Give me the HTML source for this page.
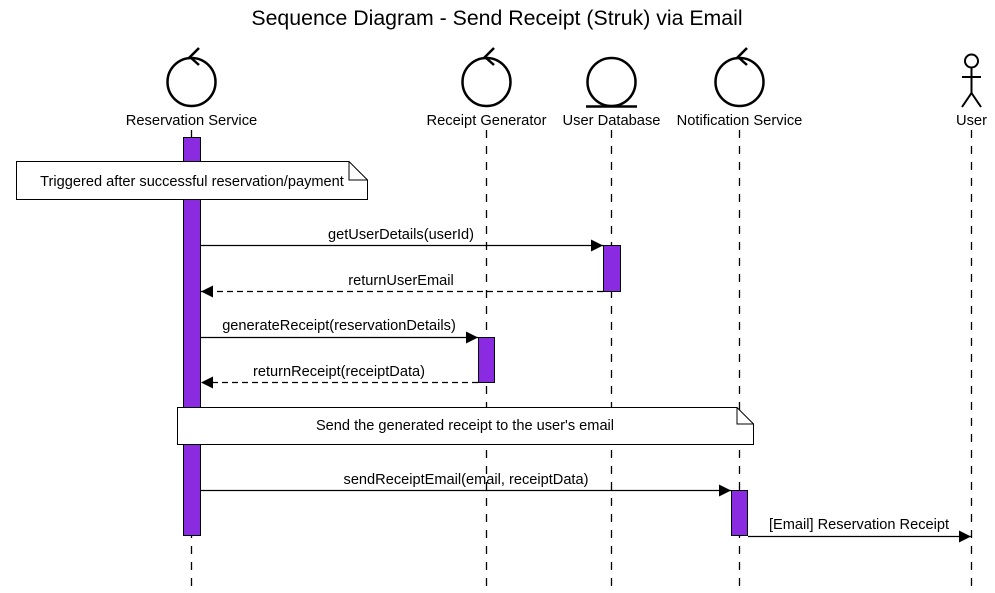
<!DOCTYPE html>
<html><head><meta charset="utf-8"><style>body{margin:0;background:#fff}svg{display:block}text{font-family:"Liberation Sans",Arial,sans-serif;fill:#000}</style></head>
<body>
<svg width="995" height="593" viewBox="0 0 995 593" xmlns="http://www.w3.org/2000/svg">
<text x="497" y="25" font-size="21.3" text-anchor="middle">Sequence Diagram - Send Receipt (Struk) via Email</text>
<defs><marker id="a" markerWidth="12" markerHeight="12" refX="12" refY="6" orient="auto" markerUnits="userSpaceOnUse"><path d="M0,0 L12,6 L0,12 z" fill="#000"/></marker></defs>
<g stroke="#000" stroke-width="1.3" stroke-dasharray="8,8" fill="none">
<line x1="191.5" y1="130" x2="191.5" y2="600"/>
<line x1="486.5" y1="130" x2="486.5" y2="600"/>
<line x1="611.5" y1="130" x2="611.5" y2="600"/>
<line x1="739.5" y1="130" x2="739.5" y2="600"/>
<line x1="971.5" y1="130" x2="971.5" y2="600"/>
</g>
<g stroke="#000" stroke-width="2.5" fill="none">
<circle cx="191.5" cy="82" r="24"/><path d="M199,48 L190,57 L199,65"/>
<circle cx="486.5" cy="82" r="24"/><path d="M494,48 L485,57 L494,65"/>
<circle cx="611.5" cy="82" r="24"/><line x1="586" y1="106.5" x2="637" y2="106.5"/>
<circle cx="739.5" cy="82" r="24"/><path d="M747,48 L738,57 L747,65"/>
<circle cx="971.5" cy="61" r="6.5" stroke-width="2"/>
<path d="M971.5,67.5 V93 M962,77 H981 M962,107 L971.5,93 L981,107" stroke-width="2"/>
</g>
<g font-size="14.7" text-anchor="middle">
<text x="191.5" y="125">Reservation Service</text>
<text x="486.5" y="125">Receipt Generator</text>
<text x="611.5" y="125">User Database</text>
<text x="739.5" y="125">Notification Service</text>
<text x="971.5" y="125">User</text>
</g>
<g fill="#8a2be2" stroke="#000" stroke-width="1">
<rect x="183.5" y="137.5" width="17" height="398"/>
<rect x="603.5" y="245.5" width="17" height="46"/>
<rect x="478.5" y="337.5" width="16" height="45"/>
<rect x="731.5" y="490.5" width="16" height="45"/>
</g>
<g fill="#fff" stroke="#000" stroke-width="1">
<path d="M16.5,161.5 H349 L367.5,180 V199.5 H16.5 Z"/><path d="M349,161.5 V180 H367.5" fill="none"/>
<path d="M177.5,407.5 H737 L753.5,424 V444.5 H177.5 Z"/><path d="M737,407.5 V424 H753.5" fill="none"/>
</g>
<text x="192" y="186" font-size="14.6" text-anchor="middle">Triggered after successful reservation/payment</text>
<text x="465" y="430" font-size="14.6" text-anchor="middle">Send the generated receipt to the user's email</text>
<g stroke="#000" stroke-width="1.3" fill="none">
<line x1="201" y1="245.5" x2="603" y2="245.5" marker-end="url(#a)"/>
<line x1="603" y1="291.5" x2="201" y2="291.5" stroke-dasharray="6,4" marker-end="url(#a)"/>
<line x1="201" y1="337.5" x2="478" y2="337.5" marker-end="url(#a)"/>
<line x1="478" y1="382.5" x2="201" y2="382.5" stroke-dasharray="6,4" marker-end="url(#a)"/>
<line x1="201" y1="490.5" x2="731" y2="490.5" marker-end="url(#a)"/>
<line x1="748" y1="536.5" x2="971" y2="536.5" marker-end="url(#a)"/>
</g>
<g font-size="14.6" text-anchor="middle">
<text x="401" y="239">getUserDetails(userId)</text>
<text x="401" y="285">returnUserEmail</text>
<text x="339" y="330">generateReceipt(reservationDetails)</text>
<text x="339" y="376">returnReceipt(receiptData)</text>
<text x="466" y="484">sendReceiptEmail(email, receiptData)</text>
<text x="859" y="529">[Email] Reservation Receipt</text>
</g>
</svg>
</body></html>
